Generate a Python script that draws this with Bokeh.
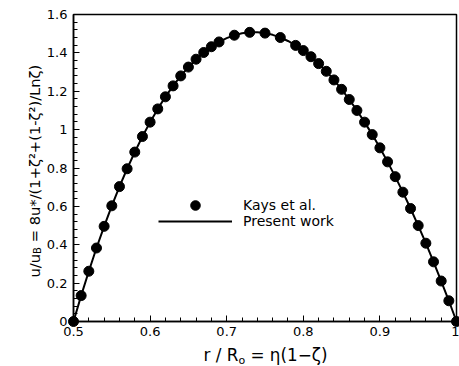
import math

from bokeh.core.properties import value
from bokeh.embed import file_html
from bokeh.models import FixedTicker, Legend, LegendItem, Range1d
from bokeh.plotting import figure
from bokeh.resources import INLINE

# Fully developed laminar profile in an annulus, radius ratio 0.5
# Solid curve: present work
r_line = [0.50, 0.51, 0.52, 0.53, 0.54, 0.55, 0.56, 0.57, 0.58, 0.59,
          0.60, 0.61, 0.62, 0.63, 0.64, 0.65, 0.66, 0.67, 0.68, 0.69,
          0.70, 0.71, 0.72, 0.73, 0.74, 0.75, 0.76, 0.77, 0.78, 0.79,
          0.80, 0.81, 0.82, 0.83, 0.84, 0.85, 0.86, 0.87, 0.88, 0.89,
          0.90, 0.91, 0.92, 0.93, 0.94, 0.95, 0.96, 0.97, 0.98, 0.99, 1.00]
u_line = [0.000, 0.135, 0.262, 0.383, 0.496, 0.603, 0.703, 0.796, 0.883, 0.964,
          1.039, 1.108, 1.171, 1.228, 1.280, 1.326, 1.367, 1.402, 1.432, 1.457,
          1.477, 1.492, 1.502, 1.507, 1.507, 1.503, 1.494, 1.480, 1.462, 1.439,
          1.412, 1.380, 1.344, 1.304, 1.259, 1.210, 1.157, 1.100, 1.039, 0.974,
          0.905, 0.832, 0.755, 0.674, 0.589, 0.500, 0.408, 0.311, 0.211, 0.108, 0.000]

# Markers: Kays et al.
r_kays = [0.50, 0.51, 0.52, 0.53, 0.54, 0.55, 0.56, 0.57, 0.58, 0.59,
          0.60, 0.61, 0.62, 0.63, 0.64, 0.65, 0.66, 0.67, 0.68, 0.69,
          0.71, 0.73, 0.75, 0.77,
          0.79, 0.80, 0.81, 0.82, 0.83, 0.84, 0.85, 0.86, 0.87, 0.88, 0.89,
          0.90, 0.91, 0.92, 0.93, 0.94, 0.95, 0.96, 0.97, 0.98, 0.99, 1.00]
u_kays = [0.000, 0.135, 0.262, 0.383, 0.496, 0.603, 0.703, 0.796, 0.883, 0.964,
          1.039, 1.108, 1.171, 1.228, 1.280, 1.326, 1.367, 1.402, 1.432, 1.457,
          1.492, 1.507, 1.503, 1.480,
          1.439, 1.412, 1.380, 1.344, 1.304, 1.259, 1.210, 1.157, 1.100, 1.039, 0.974,
          0.905, 0.832, 0.755, 0.674, 0.589, 0.500, 0.408, 0.311, 0.211, 0.108, 0.000]

x_ticks = [0.5, 0.6, 0.7, 0.8, 0.9, 1.0]
x_tick_labels = ["0.5", "0.6", "0.7", "0.8", "0.9", "1"]
y_ticks = [0.0, 0.2, 0.4, 0.6, 0.8, 1.0, 1.2, 1.4, 1.6]
y_tick_labels = ["0", "0.2", "0.4", "0.6", "0.8", "1", "1.2", "1.4", "1.6"]
x_minor = [round(0.5 + 0.02 * i, 2) for i in range(26)]
y_minor = [round(0.04 * i, 2) for i in range(41)]

FONT = "DejaVu Sans"
NBSP = "\u00a0"

p = figure(width=459, height=366, x_range=Range1d(0.5, 1.0), y_range=Range1d(0.0, 1.6),
           output_backend="svg", toolbar_location=None,
           min_border_left=73, min_border_right=3, min_border_top=14, min_border_bottom=45)
p.grid.visible = False
p.background_fill_color = "white"
p.border_fill_color = "white"
p.outline_line_color = "black"
p.outline_line_width = 1.5
p.outline_line_alpha = 1.0

for ax, ticks, labels, minor in ((p.xaxis[0], x_ticks, x_tick_labels, x_minor),
                                 (p.yaxis[0], y_ticks, y_tick_labels, y_minor)):
    ax.ticker = FixedTicker(ticks=ticks, minor_ticks=minor)
    ax.major_label_overrides = dict(zip(ticks, labels))
    ax.axis_line_color = "black"
    ax.axis_line_width = 1.5
    ax.major_tick_in = 6
    ax.major_tick_out = 0
    ax.minor_tick_in = 4
    ax.minor_tick_out = 0
    ax.major_tick_line_color = "black"
    ax.minor_tick_line_color = "black"
    ax.major_label_text_font = FONT
    ax.major_label_text_font_size = "13px"
    ax.major_label_text_color = "black"
p.xaxis.major_label_standoff = 5
p.yaxis.major_label_standoff = 6

line_r = p.line(r_line, u_line, line_color="black", line_width=2)
dots = p.scatter(r_kays, u_kays, size=10, marker="circle",
                 fill_color="black", line_color="black", level="overlay")

# one legend per entry so the two rows sit close together
legend_style = dict(orientation="vertical", glyph_width=74, glyph_height=24,
                    label_height=14, label_standoff=11, padding=0, margin=0,
                    border_line_color=None, background_fill_alpha=0.0,
                    label_text_font=FONT, label_text_font_size="14px",
                    label_text_color="black")
p.add_layout(Legend(items=[LegendItem(label="Kays et al.", renderers=[dots])],
                    location=(85, 104.5), **legend_style), "center")
p.add_layout(Legend(items=[LegendItem(label="Present work", renderers=[line_r])],
                    location=(85, 88), **legend_style), "center")

# axis titles, placed by pixel offsets from the lower-left corner of the frame
x0 = p.x_range.start
y0 = p.y_range.start


def add_text(text, dx, dy, size, angle=0.0):
    p.text(x=[x0], y=[y0], text=[text], x_offset=dx, y_offset=dy, angle=angle,
           text_font=value(FONT), text_font_size=value(size), text_color="black",
           text_align="left", text_baseline="alphabetic", level="overlay")


# y-axis title, written bottom to top, with subscript B
add_text("u/u", -39, -44, "14.7px", math.pi / 2)
add_text("B", -36, -67.6, "10px", math.pi / 2)
add_text(NBSP + "=" + NBSP + "8u*/(1+ζ²+(1-ζ²)/Lnζ)", -39, -74.5, "14.7px", math.pi / 2)

# x-axis title with subscript o
add_text("r" + NBSP + "/" + NBSP + "R", 130, 33, "16.8px")
add_text("o", 164.9, 39, "11px")
add_text(NBSP + "=" + NBSP + "η(1−ζ)", 171.6, 33, "16.8px")

open("out.html", "w").write(file_html(p, INLINE))
